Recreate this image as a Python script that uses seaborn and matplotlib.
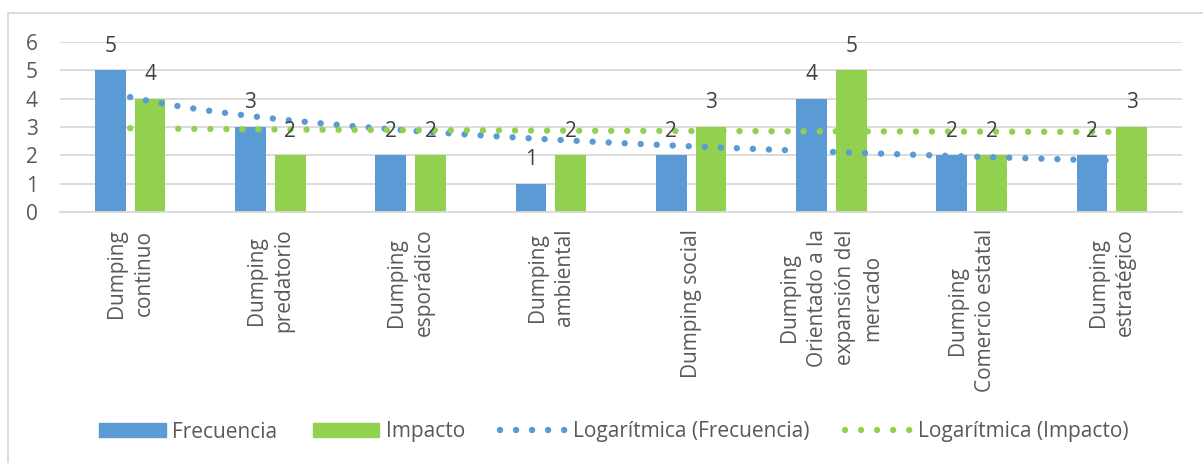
import matplotlib.pyplot as plt
import matplotlib.patches as mpatches
from matplotlib.lines import Line2D
import numpy as np
import pandas as pd
import seaborn as sns

# data
categorias = ["Dumping\ncontinuo", "Dumping\npredatorio", "Dumping\nesporádico",
              "Dumping\nambiental", "Dumping social",
              "Dumping\nOrientado a la\nexpansión del\nmercado",
              "Dumping\nComercio estatal", "Dumping\nestratégico"]
frecuencia = [5, 3, 2, 1, 2, 4, 2, 2]
impacto = [4, 2, 2, 2, 3, 5, 2, 3]

azul = "#5B9BD5"
verde = "#92D050"
gris = "#595959"

sns.set_theme(style="white")
plt.rcParams['font.family'] = ['Open Sans', 'DejaVu Sans']

df = pd.DataFrame({
    "cat": categorias * 2,
    "valor": frecuencia + impacto,
    "serie": ["Frecuencia"] * len(categorias) + ["Impacto"] * len(categorias),
})

fig = plt.figure(figsize=(12.03, 4.63), dpi=100)
ax = fig.add_axes([60/1203, 1-212/463, (1182-60)/1203, (212-42)/463])

sns.barplot(data=df, x="cat", y="valor", hue="serie", palette=[azul, verde],
            saturation=1, linewidth=0, width=0.57, gap=0.23, ax=ax,
            legend=False, zorder=2)

# data labels
for cont in ax.containers:
    for bar in cont:
        h = bar.get_height()
        ax.annotate(f"{int(h)}", (bar.get_x()+bar.get_width()/2, h),
                    xytext=(0, 13.5), textcoords="offset points",
                    ha="center", va="baseline", fontsize=15, color="#404040", zorder=5)

# logarithmic trendlines (Excel style: y = a*ln(x) + b)
xs = np.arange(1, len(categorias)+1)
xx = np.linspace(1, len(categorias), 300)
dot = (0, (0.01, 2.5))
for serie, col in [(frecuencia, azul), (impacto, verde)]:
    a, b = np.polyfit(np.log(xs), serie, 1)
    ax.plot(xx-1, a*np.log(xx)+b, color=col, lw=4.6, linestyle=dot,
            dash_capstyle="round", zorder=4)

ax.set_xlim(-0.5, len(categorias)-0.5)
ax.set_ylim(0, 6)
ax.set_yticks(range(0, 7))
ax.yaxis.grid(True, color="#D9D9D9", lw=1.3, zorder=0)
ax.set_axisbelow(True)
for s in ["top", "right", "left"]:
    ax.spines[s].set_visible(False)
ax.spines["bottom"].set_color("#D9D9D9")
ax.spines["bottom"].set_linewidth(1.3)
ax.set_xlabel("")
ax.set_ylabel("")
ax.tick_params(axis="y", length=0, pad=16, labelsize=15, labelcolor=gris)
ax.tick_params(axis="x", length=0, pad=12, labelsize=15, labelcolor=gris)
ax.set_xticks(range(len(categorias)))
ax.set_xticklabels(categorias, rotation=90, ha="center", va="top",
                   multialignment="center", linespacing=1.42)

handles = [mpatches.Patch(color=azul), mpatches.Patch(color=verde),
           Line2D([], [], color=azul, lw=4.6, linestyle=dot, dash_capstyle="round"),
           Line2D([], [], color=verde, lw=4.6, linestyle=dot, dash_capstyle="round")]
labels = ["Frecuencia", "Impacto", "Logarítmica (Frecuencia)", "Logarítmica (Impacto)"]
leg = fig.legend(handles, labels, loc="center", bbox_to_anchor=(614/1203, 1-432/463),
                 ncol=4, frameon=False, fontsize=15, handlelength=3.2, handleheight=0.65,
                 handletextpad=0.3, columnspacing=1.7, labelcolor=gris)

# chart border
fig.patches.append(mpatches.Rectangle((8/1203, -0.02), 1.05, 1-13/463+0.02,
                                      transform=fig.transFigure, fill=False,
                                      edgecolor="#D9D9D9", lw=1.3))

fig.savefig("out.png", dpi=100)
plt.close()
